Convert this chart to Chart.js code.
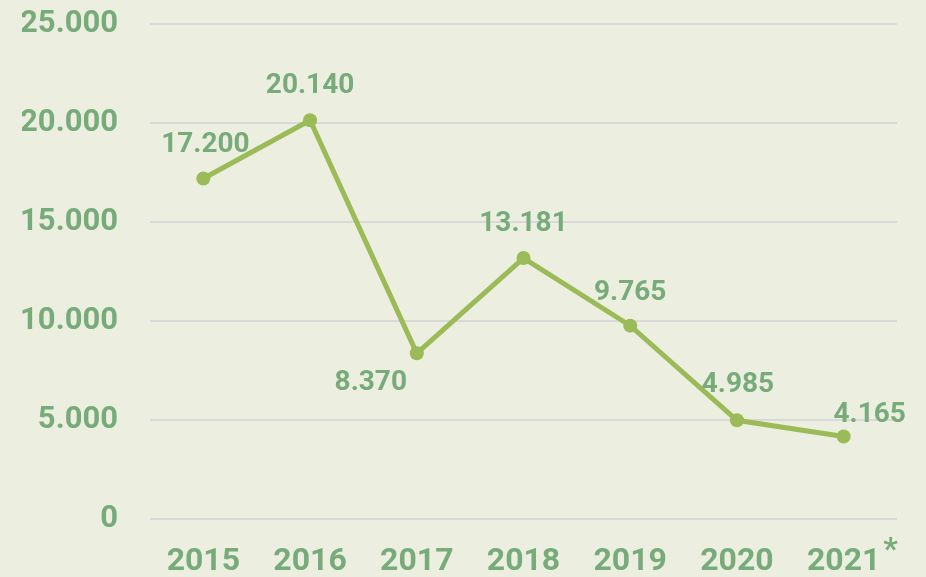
<!DOCTYPE html>
<html>
<head>
<meta charset="utf-8">
<script src="https://cdn.jsdelivr.net/npm/chart.js@4/dist/chart.umd.min.js"></script>
<style>
  html, body { margin: 0; padding: 0; background: #ECEFDF; }
  #wrap { width: 926px; height: 577px; }
</style>
</head>
<body>
<div id="wrap"><canvas id="chart" width="926" height="577"></canvas></div>
<script>
var years = ["2015", "2016", "2017", "2018", "2019", "2020", "2021"];
var values = [17200, 20140, 8370, 13181, 9765, 4985, 4165];
var yTicks = [0, 5000, 10000, 15000, 20000, 25000];

var textColor = '#77AB7A';
var lineColor = '#9BBB59';
var fontFamily = 'Roboto, "Noto Sans", sans-serif';

function fmt(v) {
  return v.toString().replace(/\B(?=(\d{3})+(?!\d))/g, '.');
}

// label offsets per point (dx, dy) relative to the point
var labelOffsets = [[2, -33], [0, -34], [-46, 30], [0, -34], [0, -33], [1, -35], [26, -22]];

var valueLabels = {
  id: 'valueLabels',
  afterDatasetsDraw: function(chart) {
    var ctx = chart.ctx;
    var meta = chart.getDatasetMeta(0);
    ctx.save();
    ctx.font = 'bold 28px ' + fontFamily;
    ctx.fillStyle = textColor;
    ctx.textAlign = 'center';
    ctx.textBaseline = 'middle';
    meta.data.forEach(function(pt, i) {
      var o = labelOffsets[i];
      ctx.fillText(fmt(values[i]), pt.x + o[0], pt.y + o[1]);
    });
    // asterisk next to the last year
    var xs = chart.scales.x;
    var last = years.length - 1;
    ctx.font = 'bold 32px ' + fontFamily;
    var w = ctx.measureText(years[last]).width;
    ctx.textAlign = 'left';
    ctx.fillText('*', xs.getPixelForValue(last) + w / 2 + 3, xs.top + 32);
    ctx.restore();
  }
};

new Chart(document.getElementById('chart').getContext('2d'), {
  type: 'line',
  data: {
    labels: years,
    datasets: [{
      data: values,
      borderColor: lineColor,
      backgroundColor: lineColor,
      borderWidth: 5,
      pointRadius: 7,
      pointBackgroundColor: lineColor,
      pointBorderWidth: 0,
      tension: 0
    }]
  },
  options: {
    responsive: false,
    animation: false,
    layout: { padding: { left: 22, right: 29, top: 24, bottom: 0 } },
    plugins: {
      legend: { display: false },
      tooltip: { enabled: false }
    },
    scales: {
      x: {
        offset: true,
        grid: { display: false, drawTicks: false },
        border: { display: false },
        afterFit: function(scale) {
          scale.height = 58;
          scale.paddingLeft = 0;
          scale.paddingRight = 0;
        },
        ticks: {
          color: textColor,
          padding: 24,
          font: { family: fontFamily, size: 32, weight: 'bold' }
        }
      },
      y: {
        min: 0,
        max: 25000,
        afterBuildTicks: function(scale) {
          scale.ticks = yTicks.map(function(v) { return { value: v }; });
        },
        afterFit: function(scale) {
          scale.width = 128;
          scale.paddingTop = 0;
          scale.paddingBottom = 0;
        },
        grid: { color: '#D9D9D9', lineWidth: 2, drawTicks: false },
        border: { display: false },
        ticks: {
          color: textColor,
          padding: 32,
          font: { family: fontFamily, size: 31, weight: 'bold' },
          callback: function(v) { return fmt(v); }
        }
      }
    }
  },
  plugins: [valueLabels]
});
</script>
</body>
</html>
